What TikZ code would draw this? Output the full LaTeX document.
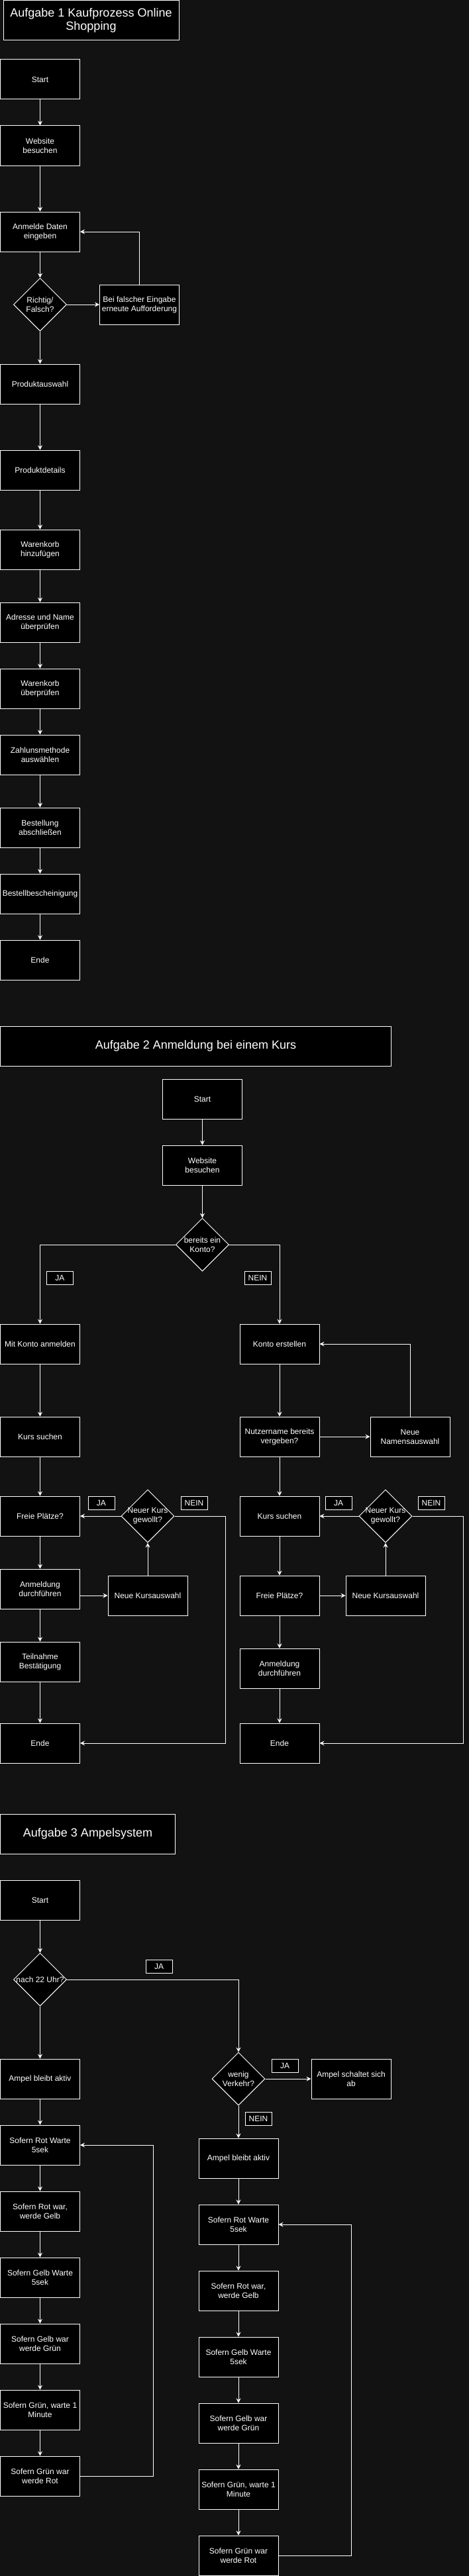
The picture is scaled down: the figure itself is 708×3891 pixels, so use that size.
\documentclass[tikz,border=0pt]{standalone}
\usepackage{fontspec}
\setmainfont{Liberation Sans}
\usetikzlibrary{shapes.geometric,arrows.meta,calc}
\definecolor{bgc}{RGB}{18,18,18}
\tikzset{
 box/.style={draw=white, fill=black, text=white, line width=1pt, minimum width=120pt, minimum height=60pt, inner sep=1pt, align=center, font=\fontsize{12}{14}\selectfont},
 ttl/.style={box, font=\fontsize{18}{20}\selectfont},
 lbl/.style={draw=white, fill=black, text=white, line width=1pt, minimum width=40pt, minimum height=20pt, inner sep=0pt, font=\fontsize{12}{14}\selectfont},
 dia/.style={draw=white, fill=black, line width=1pt, diamond, minimum width=80pt, minimum height=80pt, inner sep=0pt, aspect=1},
 dtxt/.style={text=white, align=center, font=\fontsize{12}{14}\selectfont},
 arr/.style={draw=white, line width=1pt, -{Stealth[length=7pt,width=7pt,inset=2.5pt]}},
 ln/.style={draw=white, line width=1pt},
}
\begin{document}
\begin{tikzpicture}[x=1pt,y=-1pt]
\fill[bgc] (0,0) rectangle (708,3891);
\useasboundingbox (0,0) rectangle (708,3891);

% ---------- Aufgabe 1 ----------
\node[ttl, minimum width=265pt] (t1) at (137.5,30.5) {Aufgabe 1 Kaufprozess Online\\Shopping};
\node[box] (s1start) at (60.5,120) {Start};
\node[box] (s1web) at (60.5,220) {Website\\besuchen};
\node[box] (s1anm) at (60.5,350) {Anmelde Daten\\eingeben};
\node[dia, label={[dtxt]center:Richtig/\\Falsch?}] (s1dia) at (60.5,460) {};
\node[box] (s1bei) at (210.5,460) {Bei falscher Eingabe\\erneute Aufforderung};
\node[box] (s1prod) at (60.5,580) {Produktauswahl};
\node[box] (s1det) at (60.5,710) {Produktdetails};
\node[box] (s1wk) at (60.5,830) {Warenkorb\\hinzufügen};
\node[box] (s1adr) at (60.5,940) {Adresse und Name\\überprüfen};
\node[box] (s1wku) at (60.5,1040) {Warenkorb\\überprüfen};
\node[box] (s1zahl) at (60.5,1140) {Zahlunsmethode\\auswählen};
\node[box] (s1best) at (60.5,1250) {Bestellung\\abschließen};
\node[box] (s1bb) at (60.5,1350) {Bestellbescheinigung};
\node[box] (s1ende) at (60.5,1450) {Ende};

\draw[arr] (s1start) -- (s1web);
\draw[arr] (s1web) -- (s1anm);
\draw[arr] (s1anm) -- (s1dia);
\draw[arr] (s1dia) -- (s1bei);
\draw[arr] (s1bei.north) |- (s1anm.east);
\draw[arr] (s1dia) -- (s1prod);
\draw[arr] (s1prod) -- (s1det);
\draw[arr] (s1det) -- (s1wk);
\draw[arr] (s1wk) -- (s1adr);
\draw[arr] (s1adr) -- (s1wku);
\draw[arr] (s1wku) -- (s1zahl);
\draw[arr] (s1zahl) -- (s1best);
\draw[arr] (s1best) -- (s1bb);
\draw[arr] (s1bb) -- (s1ende);

% ---------- Aufgabe 2 ----------
\node[ttl, minimum width=590pt] (t2) at (295.5,1580) {Aufgabe 2 Anmeldung bei einem Kurs};
\node[box] (s2start) at (305.5,1660) {Start};
\node[box] (s2web) at (305.5,1760) {Website\\besuchen};
\node[dia, label={[dtxt]center:bereits ein\\Konto?}] (s2dia) at (305.5,1880) {};
\node[lbl] (s2ja) at (90.5,1930) {JA};
\node[lbl] (s2nein) at (389,1930) {NEIN};
% left column
\node[box] (s2mit) at (60.5,2030) {Mit Konto anmelden};
\node[box] (s2kurs) at (60.5,2170) {Kurs suchen};
\node[box] (s2frei) at (60.5,2290) {Freie Plätze?};
\node[box] (s2anm) at (60.5,2400) {Anmeldung\\durchführen};
\node[box] (s2teil) at (60.5,2510) {Teilnahme\\Bestätigung};
\node[box] (s2ende) at (60.5,2633) {Ende};
\node[box] (s2nka) at (223,2410) {Neue Kursauswahl};
\node[dia, label={[dtxt]center:Neuer Kurs\\gewollt?}] (s2dia2) at (223,2290) {};
\node[lbl] (s2ja2) at (153,2270) {JA};
\node[lbl] (s2nein2) at (293,2270) {NEIN};
\coordinate (k1) at (340,2290);
% right column
\node[box] (s2konto) at (422,2030) {Konto erstellen};
\node[box] (s2nutz) at (422,2170) {Nutzername bereits\\vergeben?};
\node[box] (s2nna) at (619,2170) {Neue\\Namensauswahl};
\node[box] (s2kurs2) at (422,2290) {Kurs suchen};
\node[box] (s2frei2) at (422,2410) {Freie Plätze?};
\node[box] (s2anm2) at (422,2520) {Anmeldung\\durchführen};
\node[box] (s2ende2) at (422,2633) {Ende};
\node[box] (s2nka2) at (582,2410) {Neue Kursauswahl};
\node[dia, label={[dtxt]center:Neuer Kurs\\gewollt?}] (s2dia3) at (582,2290) {};
\node[lbl] (s2ja3) at (511,2270) {JA};
\node[lbl] (s2nein3) at (651,2270) {NEIN};
\coordinate (k2) at (699,2290);

\draw[arr] (s2start) -- (s2web);
\draw[arr] (s2web) -- (s2dia);
\draw[arr] (s2dia.west) -| (s2mit.north);
\draw[arr] (s2dia.east) -| (s2konto.north);
\draw[arr] (s2mit) -- (s2kurs);
\draw[arr] (s2kurs) -- (s2frei);
\draw[arr] (s2frei) -- (s2anm);
\draw[arr] (s2anm) -- (s2teil);
\draw[arr] (s2teil) -- (s2ende);
\draw[arr] (s2anm.east |- s2nka.west) -- (s2nka.west);
\draw[arr] (s2nka.north) -- (s2dia2.south);
\draw[arr] (s2dia2.west) -- (s2frei.east);
\draw[arr] (s2dia2.east) -- (k1) |- (s2ende.east);
\draw[arr] (s2konto) -- (s2nutz);
\draw[arr] (s2nutz) -- (s2nna);
\draw[arr] (s2nna.north) |- (s2konto.east);
\draw[arr] (s2nutz) -- (s2kurs2);
\draw[arr] (s2kurs2) -- (s2frei2);
\draw[arr] (s2frei2) -- (s2anm2);
\draw[arr] (s2anm2) -- (s2ende2);
\draw[arr] (s2frei2) -- (s2nka2);
\draw[arr] (s2nka2.north) -- (s2dia3.south);
\draw[arr] (s2dia3.west) -- (s2kurs2.east);
\draw[arr] (s2dia3.east) -- (k2) |- (s2ende2.east);

% ---------- Aufgabe 3 ----------
\node[ttl, minimum width=264pt] (t3) at (132.5,2770) {Aufgabe 3 Ampelsystem};
\node[box] (s3start) at (60.5,2870) {Start};
\node[dia, label={[dtxt]center:nach 22 Uhr?}] (s3dia) at (60.5,2990) {};
\node[lbl] (s3ja) at (240,2970) {JA};
\node[box] (s3aktiv) at (60.5,3140) {Ampel bleibt aktiv};
\node[dia, label={[dtxt]center:wenig\\Verkehr?}] (s3dia2) at (360,3140) {};
\node[lbl] (s3ja2) at (430,3120) {JA};
\node[box] (s3ab) at (530,3140) {Ampel schaltet sich\\ab};
\node[lbl] (s3nein) at (390,3200) {NEIN};
\node[box] (s3aktiv2) at (360,3260) {Ampel bleibt aktiv};
% left chain
\node[box] (s3rw) at (60.5,3240) {Sofern Rot Warte\\5sek};
\node[box] (s3rg) at (60.5,3340) {Sofern Rot war,\\werde Gelb};
\node[box] (s3gw) at (60.5,3440) {Sofern Gelb Warte\\5sek};
\node[box] (s3gg) at (60.5,3540) {Sofern Gelb war\\werde Grün};
\node[box] (s3gm) at (60.5,3640) {Sofern Grün, warte 1\\Minute};
\node[box] (s3gr) at (60.5,3740) {Sofern Grün war\\werde Rot};
\coordinate (k3) at (231,3740);
% right chain
\node[box] (s3rw2) at (360,3360) {Sofern Rot Warte\\5sek};
\node[box] (s3rg2) at (360,3460) {Sofern Rot war,\\werde Gelb};
\node[box] (s3gw2) at (360,3560) {Sofern Gelb Warte\\5sek};
\node[box] (s3gg2) at (360,3660) {Sofern Gelb war\\werde Grün};
\node[box] (s3gm2) at (360,3760) {Sofern Grün, warte 1\\Minute};
\node[box] (s3gr2) at (360,3860) {Sofern Grün war\\werde Rot};
\coordinate (k4) at (530,3860);

\draw[arr] (s3start) -- (s3dia);
\draw[arr] (s3dia.east) -| (s3dia2.north);
\draw[arr] (s3dia) -- (s3aktiv);
\draw[arr] (s3dia2) -- (s3ab);
\draw[arr] (s3dia2) -- (s3aktiv2);
\draw[arr] (s3aktiv) -- (s3rw);
\draw[arr] (s3rw) -- (s3rg);
\draw[arr] (s3rg) -- (s3gw);
\draw[arr] (s3gw) -- (s3gg);
\draw[arr] (s3gg) -- (s3gm);
\draw[arr] (s3gm) -- (s3gr);
\draw[arr] (s3gr.east) -- (k3) |- (s3rw.east);
\draw[arr] (s3aktiv2) -- (s3rw2);
\draw[arr] (s3rw2) -- (s3rg2);
\draw[arr] (s3rg2) -- (s3gw2);
\draw[arr] (s3gw2) -- (s3gg2);
\draw[arr] (s3gg2) -- (s3gm2);
\draw[arr] (s3gm2) -- (s3gr2);
\draw[arr] (s3gr2.east) -- (k4) |- (s3rw2.east);
\end{tikzpicture}
\end{document}
